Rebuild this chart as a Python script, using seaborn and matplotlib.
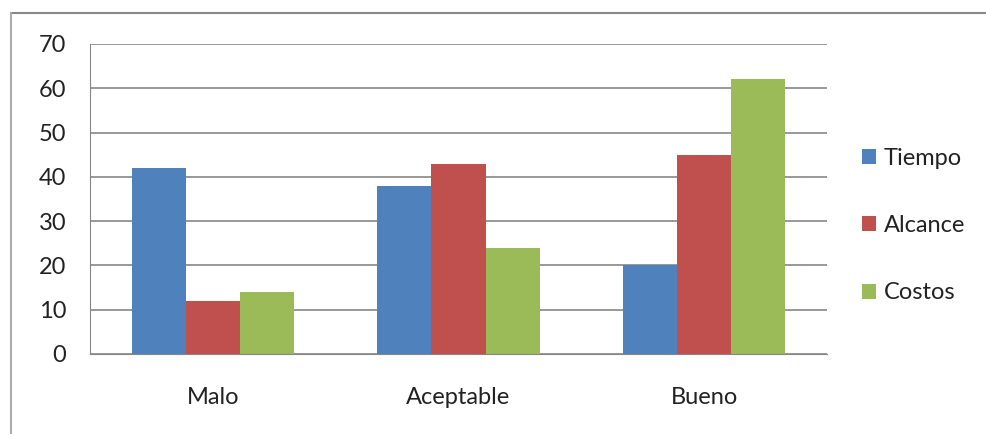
import matplotlib
matplotlib.use("Agg")
import matplotlib.pyplot as plt
from matplotlib.lines import Line2D
from matplotlib.patches import Patch
import seaborn as sns
import pandas as pd

# data
categorias = ["Malo", "Aceptable", "Bueno"]
series = ["Tiempo", "Alcance", "Costos"]
tiempo = [42, 38, 20]
alcance = [12, 43, 45]
costos = [14, 24, 62]
colores = ["#4F81BD", "#C0504D", "#9BBB59"]

df = pd.DataFrame({
    "categoria": categorias * 3,
    "serie": [s for s in series for _ in categorias],
    "valor": tiempo + alcance + costos,
})

sns.set_style("white")
plt.rcParams["font.family"] = ["Lato", "DejaVu Sans"]
fs = 17

fig = plt.figure(figsize=(9.87, 4.34), dpi=100)
ax = fig.add_axes([90 / 987, 80 / 434, 737 / 987, 310 / 434])

sns.barplot(data=df, x="categoria", y="valor", hue="serie", order=categorias,
            hue_order=series, palette=colores, width=0.66, saturation=1,
            gap=0, ax=ax, legend=False, linewidth=0)

ax.set_ylim(0, 70)
ax.set_xlim(-0.5, 2.5)
ax.set_yticks(range(0, 71, 10))
ax.yaxis.grid(True, color="#868686", linewidth=1.2)
ax.set_axisbelow(True)
ax.set_xlabel("")
ax.set_ylabel("")

for side in ["top", "right"]:
    ax.spines[side].set_visible(False)
ax.spines["left"].set_color("#868686")
ax.spines["bottom"].set_color("#868686")

# category boundary ticks
ax.set_xticks([-0.5, 0.5, 1.5, 2.5], minor=True)
ax.tick_params(axis="x", which="minor", length=6, color="#868686", width=1)
ax.tick_params(axis="x", which="major", length=0, pad=24, labelsize=fs, labelcolor="#222222")
ax.tick_params(axis="y", length=6, color="#868686", width=1, labelsize=fs,
               labelcolor="#222222", pad=11, direction="out")

handles = [Patch(facecolor=c, edgecolor="none") for c in colores]
fig.legend(handles, series, loc="upper left", bbox_to_anchor=(841 / 987, 1 - 127 / 434),
           frameon=False, fontsize=fs, handlelength=0.6, handleheight=0.6,
           handletextpad=0.3, labelspacing=1.95, labelcolor="#222222")

# outer chart border
fig.add_artist(Line2D([11 / 987, 1], [1 - 13 / 434, 1 - 13 / 434], color="#888888", lw=1.5))
fig.add_artist(Line2D([11 / 987, 11 / 987], [0, 1 - 13 / 434], color="#aaaaaa", lw=1.5))

fig.savefig("out.png", dpi=100)
